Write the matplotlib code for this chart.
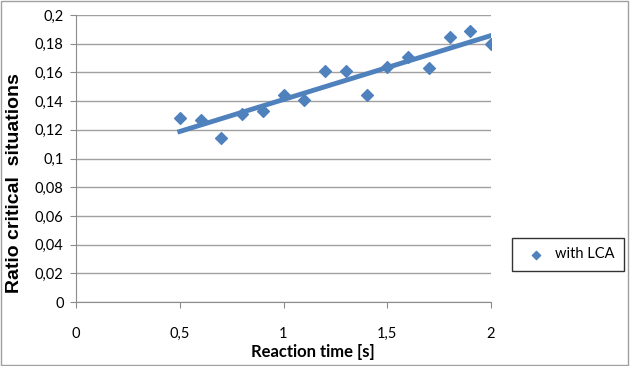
import numpy as np
import matplotlib
matplotlib.use('Agg')
import matplotlib.pyplot as plt
from matplotlib.patches import Rectangle
from matplotlib.ticker import FuncFormatter

# Data
reaction_time = [0.5, 0.6, 0.7, 0.8, 0.9, 1.0, 1.1, 1.2,
                 1.3, 1.4, 1.5, 1.6, 1.7, 1.8, 1.9, 2.0]
ratio_lca = [0.128, 0.127, 0.114, 0.131, 0.133, 0.144, 0.141, 0.161,
             0.161, 0.144, 0.164, 0.171, 0.163, 0.185, 0.189, 0.180]
x_ticks = [0, 0.5, 1, 1.5, 2]
y_ticks = [0, 0.02, 0.04, 0.06, 0.08, 0.1, 0.12, 0.14, 0.16, 0.18, 0.2]

blue = '#4F81BD'
plt.rcParams['font.family'] = ['Lato', 'DejaVu Sans']

fig = plt.figure(figsize=(6.36, 3.66), dpi=100)
ax = fig.add_axes([76 / 636, 1 - 302 / 366, 415 / 636, 287 / 366])

ax.scatter(reaction_time, ratio_lca, marker='D', s=36, color=blue,
           zorder=3, label='with LCA')

# Linear trend line
coef = np.polyfit(reaction_time, ratio_lca, 1)
xs = np.array([reaction_time[0], reaction_time[-1]])
ax.plot(xs, np.polyval(coef, xs), color=blue, lw=3.5, zorder=2)

ax.set_xlim(0, 2)
ax.set_ylim(0, 0.2)
ax.set_xticks(x_ticks)
ax.set_yticks(y_ticks)


def comma(v, pos):
    s = ('%.2f' % v).rstrip('0').rstrip('.')
    return s.replace('.', ',')


ax.xaxis.set_major_formatter(FuncFormatter(comma))
ax.yaxis.set_major_formatter(FuncFormatter(comma))
ax.grid(axis='y', color='#A0A0A0', lw=1)
ax.set_axisbelow(True)
for side in ['top', 'right']:
    ax.spines[side].set_visible(False)
for side in ['left', 'bottom']:
    ax.spines[side].set_color('#8C8C8C')
ax.tick_params(axis='both', colors='#8C8C8C', labelcolor='black',
               labelsize=10.5, length=4)
ax.tick_params(axis='x', pad=14)
ax.tick_params(axis='y', pad=5)

ax.set_xlabel('Reaction time [s]', fontsize=12, fontweight='bold', va='center')
ax.xaxis.set_label_coords((313 - 76) / 415, -50 / 287)
ax.set_ylabel('Ratio critical  situations', fontsize=14, fontweight='bold',
              family=['Liberation Sans', 'DejaVu Sans'], va='center')
ax.yaxis.set_label_coords((15 - 76) / 415, (302 - 183) / 287)

leg = fig.legend(loc='upper left', bbox_to_anchor=(512 / 636, 1 - 238 / 366),
                 frameon=True, fancybox=False, fontsize=10.5,
                 handletextpad=0.3, borderpad=0.65, borderaxespad=0,
                 markerscale=0.7, handlelength=2.0)
leg.get_frame().set_edgecolor('black')
leg.get_frame().set_linewidth(1)

fig.add_artist(Rectangle((0.002, 0.002), 0.985, 0.994,
                         transform=fig.transFigure, fill=False,
                         edgecolor='#A0A0A0', lw=1))

fig.savefig('out.png', dpi=100)
